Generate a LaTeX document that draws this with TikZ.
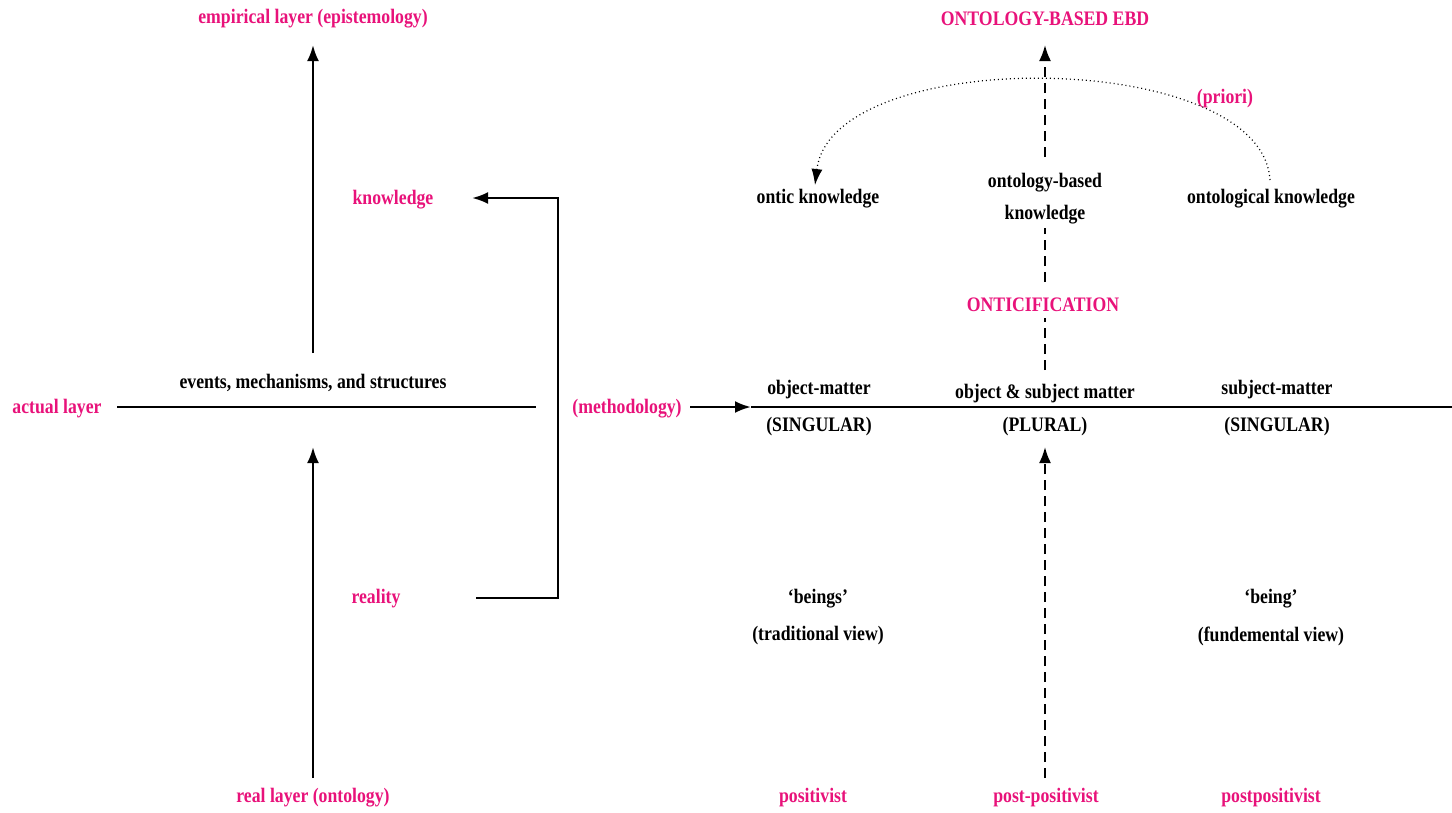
\documentclass[tikz,border=0pt]{standalone}
\usepackage{fontspec}
\setmainfont{Liberation Serif}[FakeStretch=0.86]
\usetikzlibrary{arrows.meta}
\definecolor{accent}{RGB}{232,18,122}
\begin{document}
\begin{tikzpicture}[x=1pt,y=-1pt,
  every node/.style={font=\fontsize{20.6}{24}\selectfont\bfseries, inner sep=1pt},
  term/.style={text=black, yshift=-2pt},
  key/.style={text=accent, yshift=-2pt},
  conn/.style={line width=2.5pt},
  arr/.style={conn,-{Latex[length=16pt,width=12pt]}},
  dsh/.style={line width=2.2pt,dash pattern=on 10pt off 6pt},
  dsharr/.style={dsh,-{Latex[length=16pt,width=12pt]}},
  dotarc/.style={line width=1.2pt,dash pattern=on 1pt off 3pt,-{Latex[length=16pt,width=11pt]}}]
\useasboundingbox (0,0) rectangle (1452,812);

% ---------- left part: layers of reality ----------
\node[key]  (empirical) at (313,17)  {empirical layer (epistemology)};
\node[key]  (knowledge) at (393,198) {knowledge};
\node[key]  (reality)   at (376,597) {reality};
\node[key]  (actual)    at (57,407)  {actual layer};
\node[term] (events)    at (313,381) {events, mechanisms, and structures};
\node[key]  (real)      at (313,796) {real layer (ontology)};

\coordinate (upS) at (313,353);
\coordinate (upE) at (313,45);
\coordinate (loS) at (313,778);
\coordinate (loE) at (313,447);
\coordinate (axL) at (117,407);
\coordinate (axR) at (536,407);
\coordinate (fbA) at (476,598);
\coordinate (fbB) at (558,598);
\coordinate (fbC) at (558,198);
\coordinate (fbD) at (472,198);

\draw[arr] (upS) -- (upE);
\draw[arr] (loS) -- (loE);
\draw[conn] (axL) -- (axR);
\draw[arr] (fbA) -- (fbB) -- (fbC) -- (fbD);

% ---------- right part: methodology axis ----------
\node[key]  (method)  at (627,407)  {(methodology)};
\coordinate (mS) at (690,407);
\coordinate (mA) at (751,407);
\coordinate (mE) at (1452,407);
\draw[arr] (mS) -- (mA);
\draw[conn] (mA) -- (mE);

\node[term] (objm)   at (819,388)  {object-matter};
\node[term] (sing1)  at (819,425)  {(SINGULAR)};
\node[term] (objsub) at (1045,392) {object \& subject matter};
\node[term] (plural) at (1045,425) {(PLURAL)};
\node[term] (subm)   at (1277,388) {subject-matter};
\node[term] (sing2)  at (1277,425) {(SINGULAR)};

\node[term] (beings) at (818,597)  {‘beings’};
\node[term] (trad)   at (818,634)  {(traditional view)};
\node[term] (being)  at (1271,597) {‘being’};
\node[term] (fund)   at (1271,634) {(fundemental view)};

\node[key] (positivist) at (813,796)  {positivist};
\node[key] (postpos)    at (1046,796) {post-positivist};
\node[key] (postpos2)   at (1271,796) {postpositivist};

\node[key]  (onticif) at (1043,303) {ONTICIFICATION};
\node[term] (obk1)    at (1045,181) {ontology-based};
\node[term] (obk2)    at (1045,213) {knowledge};
\node[term] (ontic)   at (818,197)  {ontic knowledge};
\node[term] (ontol)   at (1271,197) {ontological knowledge};
\node[key]  (ebd)     at (1045,17)  {ONTOLOGY-BASED EBD};
\node[key]  (priori)  at (1225,97)  {(priori)};

\coordinate (pS) at (1045,778);
\coordinate (pE) at (1045,447);
\coordinate (d1S) at (1045,370);
\coordinate (d1E) at (1045,318);
\coordinate (d2S) at (1045,282);
\coordinate (d2E) at (1045,228);
\coordinate (d3S) at (1045,157);
\coordinate (d3E) at (1045,45);
\coordinate (arcS) at (1270,180);
\coordinate (arcE) at (815,185);

\draw[dsharr] (pS) -- (pE);
\draw[dsh] (d1S) -- (d1E);
\draw[dsh] (d2S) -- (d2E);
\draw[dsharr] (d3S) -- (d3E);
\draw[dotarc] (arcS) .. controls (1262,48) and (832,44) .. (arcE);
\end{tikzpicture}
\end{document}
